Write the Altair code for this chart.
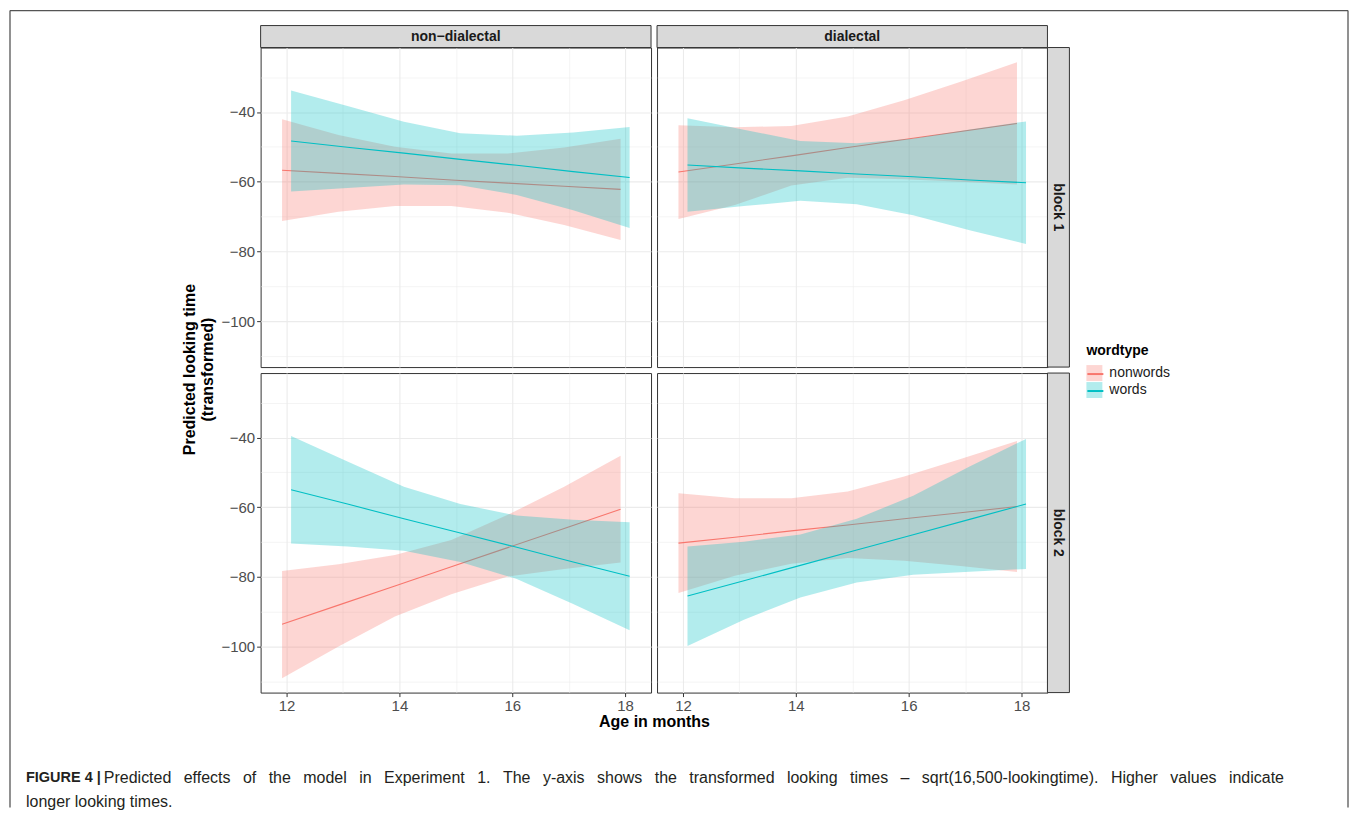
import altair as alt
import pandas as pd

FONT = "Liberation Sans"

ages = [12, 13, 14, 15, 16, 17, 18]
wordtypes = ["nonwords", "words"]
dialects = ["non−dialectal", "dialectal"]
blocks = ["block 1", "block 2"]
colors = ["#F8766D", "#00BFC4"]
dodge = [-0.08, 0.08]

# non-dialectal, block 1
nd_b1_nonwords_fit = [-56.7, -57.6, -58.5, -59.5, -60.4, -61.3, -62.2]
nd_b1_nonwords_low = [-71.3, -68.6, -67.0, -67.0, -68.9, -72.4, -76.7]
nd_b1_nonwords_upp = [-42.1, -46.6, -50.0, -51.9, -51.9, -50.2, -47.7]
nd_b1_words_fit = [-48.3, -50.1, -51.8, -53.6, -55.3, -57.1, -58.8]
nd_b1_words_low = [-62.8, -61.8, -60.8, -61.0, -63.8, -68.2, -73.3]
nd_b1_words_upp = [-33.8, -38.3, -42.8, -46.1, -46.8, -45.9, -44.3]

# dialectal, block 1
d_b1_nonwords_fit = [-57.2, -54.9, -52.6, -50.2, -47.9, -45.6, -43.3]
d_b1_nonwords_low = [-70.7, -66.7, -61.1, -58.9, -59.3, -60.0, -60.8]
d_b1_nonwords_upp = [-43.8, -44.4, -44.0, -41.3, -36.6, -31.3, -25.7]
d_b1_words_fit = [-55.2, -56.1, -56.9, -57.8, -58.6, -59.5, -60.3]
d_b1_words_low = [-68.6, -67.0, -65.5, -66.5, -69.6, -73.9, -77.9]
d_b1_words_upp = [-41.8, -45.1, -48.3, -49.0, -47.6, -45.0, -42.7]

# non-dialectal, block 2
nd_b2_nonwords_fit = [-93.6, -88.1, -82.6, -77.1, -71.6, -66.1, -60.6]
nd_b2_nonwords_low = [-109.1, -100.0, -91.4, -85.0, -79.9, -77.7, -75.9]
nd_b2_nonwords_upp = [-78.3, -76.4, -73.7, -69.4, -62.2, -54.1, -45.2]
nd_b2_words_fit = [-55.0, -59.1, -63.3, -67.4, -71.5, -75.7, -79.8]
nd_b2_words_low = [-70.4, -71.3, -72.5, -75.7, -80.6, -87.8, -95.3]
nd_b2_words_upp = [-39.6, -46.9, -54.1, -59.1, -62.4, -63.6, -64.3]

# dialectal, block 2
d_b2_nonwords_fit = [-70.3, -68.6, -66.8, -65.1, -63.3, -61.6, -59.8]
d_b2_nonwords_low = [-84.6, -79.7, -76.2, -74.6, -75.4, -76.9, -78.6]
d_b2_nonwords_upp = [-56.0, -57.4, -57.4, -55.5, -51.2, -46.2, -41.0]
d_b2_words_fit = [-85.5, -81.1, -76.7, -72.3, -67.9, -63.5, -59.1]
d_b2_words_low = [-99.8, -92.3, -85.9, -81.6, -79.4, -78.5, -77.7]
d_b2_words_upp = [-71.3, -69.9, -67.8, -63.3, -56.7, -48.3, -40.4]

x_ticks = [12, 13, 14, 15, 16, 17, 18]
y_ticks = [-110, -100, -90, -80, -70, -60, -50, -40, -30]

caption_bold = "FIGURE 4 |"
caption_line1_words = ["Predicted", "effects", "of", "the", "model", "in", "Experiment", "1.", "The",
                       "y-axis", "shows", "the", "transformed", "looking", "times", "–",
                       "sqrt(16,500-lookingtime).", "Higher", "values", "indicate"]
caption_line2 = "longer looking times."

series = {
    (dialects[0], blocks[0], "nonwords"): (nd_b1_nonwords_fit, nd_b1_nonwords_low, nd_b1_nonwords_upp),
    (dialects[0], blocks[0], "words"): (nd_b1_words_fit, nd_b1_words_low, nd_b1_words_upp),
    (dialects[1], blocks[0], "nonwords"): (d_b1_nonwords_fit, d_b1_nonwords_low, d_b1_nonwords_upp),
    (dialects[1], blocks[0], "words"): (d_b1_words_fit, d_b1_words_low, d_b1_words_upp),
    (dialects[0], blocks[1], "nonwords"): (nd_b2_nonwords_fit, nd_b2_nonwords_low, nd_b2_nonwords_upp),
    (dialects[0], blocks[1], "words"): (nd_b2_words_fit, nd_b2_words_low, nd_b2_words_upp),
    (dialects[1], blocks[1], "nonwords"): (d_b2_nonwords_fit, d_b2_nonwords_low, d_b2_nonwords_upp),
    (dialects[1], blocks[1], "words"): (d_b2_words_fit, d_b2_words_low, d_b2_words_upp),
}

rows = []
for (dia, blk, wt), (fit, low, upp) in series.items():
    off = dodge[wordtypes.index(wt)]
    for a, f, lo, up in zip(ages, fit, low, upp):
        rows.append({"dialect": dia, "block": blk, "wordtype": wt, "x": a + off,
                     "fit": f, "lower": lo, "upper": up})
df = pd.DataFrame(rows)

PW, PH = 391, 320
xscale = alt.Scale(domain=[11.54, 18.46], nice=False, zero=False)
yscale = alt.Scale(domain=[-113.2, -21.5], nice=False, zero=False)
fill_scale = alt.Scale(range=colors)
stroke_scale = alt.Scale(domain=wordtypes, range=colors)

LEG_X, LEG_Y = 827, 297
leg_common = dict(
    title="wordtype", orient="none", legendX=LEG_X, legendY=LEG_Y, symbolSize=256,
    titleFont=FONT, titleFontSize=14, titleFontWeight="bold", titleColor="#000000",
    labelFont=FONT, labelFontSize=14, labelColor="#1A1A1A", labelOffset=7,
    rowPadding=1, titlePadding=7)
fill_legend = alt.Legend(symbolType="square", symbolOpacity=0.3, symbolStrokeWidth=0, **leg_common)
stroke_legend = alt.Legend(symbolType="stroke", symbolStrokeWidth=2,
                           titleOpacity=0, labelOpacity=0, **leg_common)

x_grid_w = {"condition": {"test": "datum.value % 2 === 0", "value": 1.1}, "value": 0.55}
x_tick_op = {"condition": {"test": "datum.value % 2 === 0", "value": 1}, "value": 0}
y_grid_w = {"condition": {"test": "datum.value % 20 === 0", "value": 1.1}, "value": 0.55}
y_tick_op = {"condition": {"test": "datum.value % 20 === 0", "value": 1}, "value": 0}
y_label_expr = "datum.value % 20 === 0 ? replace(format(datum.value, 'd'), '-', '\u2212') : ''"
x_label_expr = "datum.value % 2 === 0 ? datum.label : ''"


def xaxis(show, with_title):
    if show and with_title:
        return alt.Axis(values=x_ticks, labelExpr=x_label_expr,
                        gridWidth=x_grid_w, tickOpacity=x_tick_op, title="Age in months",
                        titleX=394, titleY=29, titleBaseline="middle", titleAlign="center",
                        titleAnchor="start")
    if show:
        return alt.Axis(values=x_ticks, labelExpr=x_label_expr,
                        gridWidth=x_grid_w, tickOpacity=x_tick_op, title=None)
    return alt.Axis(values=x_ticks, labels=False, ticks=False, gridWidth=x_grid_w, title=None)


def yaxis(show, with_title):
    if show and with_title:
        return alt.Axis(values=y_ticks, labelExpr=y_label_expr,
                        gridWidth=y_grid_w, tickOpacity=y_tick_op,
                        title=["Predicted looking time", "(transformed)"],
                        titleX=-79, titleY=322, titleAngle=-90, titleBaseline="top",
                        titleAlign="center", titleAnchor="start", titleLineHeight=18)
    if show:
        return alt.Axis(values=y_ticks, labelExpr=y_label_expr,
                        gridWidth=y_grid_w, tickOpacity=y_tick_op, title=None)
    return alt.Axis(values=y_ticks, labels=False, ticks=False, gridWidth=y_grid_w, title=None)


strip_text = dict(font=FONT, fontSize=14, fontWeight="bold", color="#1A1A1A", baseline="middle")


def top_strip(label):
    d = pd.DataFrame({"label": [label]})
    rect = alt.Chart(d).mark_rect(fill="#D9D9D9", stroke="#333333", strokeWidth=1).encode(
        x=alt.value(0), x2=alt.value(PW), y=alt.value(-22), y2=alt.value(0))
    txt = alt.Chart(d).mark_text(**strip_text).encode(
        text="label:N", x=alt.value(PW / 2), y=alt.value(-11))
    return [rect, txt]


def right_strip(label):
    d = pd.DataFrame({"label": [label]})
    rect = alt.Chart(d).mark_rect(fill="#D9D9D9", stroke="#333333", strokeWidth=1).encode(
        x=alt.value(PW), x2=alt.value(PW + 22), y=alt.value(0), y2=alt.value(PH))
    txt = alt.Chart(d).mark_text(angle=90, **strip_text).encode(
        text="label:N", x=alt.value(PW + 11), y=alt.value(PH / 2))
    return [rect, txt]


def panel(col, row):
    dia, blk = dialects[col], blocks[row]
    show_x, show_y = row == 1, col == 0
    sub = df[(df["dialect"] == dia) & (df["block"] == blk)]
    base = alt.Chart(sub)
    X = alt.X("x:Q", scale=xscale, axis=xaxis(show_x, col == 0))
    layers = []
    for wt in wordtypes:
        b = base.transform_filter(alt.datum.wordtype == wt)
        area = b.mark_area(opacity=0.3, interpolate="linear").encode(
            x=X,
            y=alt.Y("lower:Q", scale=yscale, axis=yaxis(show_y, row == 0)),
            y2="upper:Q",
            fill=alt.Fill("wordtype:N", scale=fill_scale, legend=fill_legend),
        )
        line = b.mark_line(strokeWidth=1.1).encode(
            x=X,
            y=alt.Y("fit:Q", scale=yscale, axis=yaxis(show_y, row == 0)),
            stroke=alt.Stroke("wordtype:N", scale=stroke_scale, legend=stroke_legend),
        )
        layers += [area, line]
    if row == 0:
        layers += top_strip(dia)
    if col == 1:
        layers += right_strip(blk)
    return alt.layer(*layers).properties(width=PW, height=PH)


# caption cell (sits below the panels; its text and the figure frame overflow it)
CAP_X0 = -235             # caption left, relative to the cell
SPACE = " \u2002"         # widened word gap, imitating the justified first line
cap_style = dict(font=FONT, color="#231F20", align="left", baseline="middle")
frame_color = "#555555"
FL, FR, FT, FB = -251, 1089, -689, 109
one = pd.DataFrame({"t": [0]})
cap_layers = [
    alt.Chart(pd.DataFrame({"t": [caption_bold]})).mark_text(
        fontWeight="bold", fontSize=14.5, **cap_style).encode(
        text="t:N", x=alt.value(CAP_X0), y=alt.value(80)),
    alt.Chart(pd.DataFrame({"t": [SPACE.join(caption_line1_words)]})).mark_text(
        fontSize=16, **cap_style).encode(
        text="t:N", x=alt.value(CAP_X0 + 78), y=alt.value(80)),
    alt.Chart(pd.DataFrame({"t": [caption_line2]})).mark_text(
        fontSize=16, **cap_style).encode(
        text="t:N", x=alt.value(CAP_X0), y=alt.value(104)),
    alt.Chart(one).mark_rule(color=frame_color, strokeWidth=1.3).encode(
        x=alt.value(FL), y=alt.value(FT), y2=alt.value(FB)),
    alt.Chart(one).mark_rule(color=frame_color, strokeWidth=1.3).encode(
        x=alt.value(FR), y=alt.value(FT), y2=alt.value(FB)),
    alt.Chart(one).mark_rule(color=frame_color, strokeWidth=1.3).encode(
        x=alt.value(FL), x2=alt.value(FR), y=alt.value(FT)),
]
cap = alt.layer(*cap_layers).properties(
    width=PW, height=40, view=alt.ViewBackground(stroke="transparent"))

chart = alt.concat(
    panel(0, 0), panel(1, 0), panel(0, 1), panel(1, 1), cap,
    columns=2, spacing=6, bounds="flush",
).properties(
    padding={"left": 0, "top": 0, "right": 0, "bottom": 0}
).configure_view(
    stroke="#333333", strokeWidth=1
).configure_axis(
    labelFont=FONT, labelFontSize=15, labelColor="#4D4D4D", labelPadding=2,
    tickColor="#333333", tickSize=4, tickWidth=1, domain=False,
    gridColor="#EBEBEB",
    titleFont=FONT, titleFontSize=16, titleFontWeight="bold", titleColor="#000000",
)

chart.save("out.html", embed_options={"renderer": "svg", "actions": False})
